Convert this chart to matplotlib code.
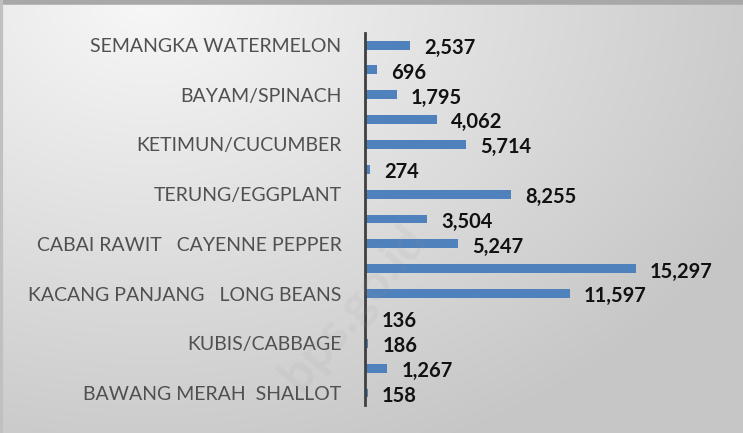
import numpy as np
import matplotlib
matplotlib.use("Agg")
import matplotlib.pyplot as plt

# categories, top to bottom (only every other row carries a name)
labels = ["SEMANGKA WATERMELON", "", "BAYAM/SPINACH", "", "KETIMUN/CUCUMBER", "",
          "TERUNG/EGGPLANT", "", "CABAI RAWIT   CAYENNE PEPPER", "",
          "KACANG PANJANG   LONG BEANS", "", "KUBIS/CABBAGE", "", "BAWANG MERAH  SHALLOT"]
values = [2537, 696, 1795, 4062, 5714, 274, 8255, 3504, 5247, 15297, 11597, 136, 186, 1267, 158]

plt.rcParams['font.family'] = ['Lato', 'DejaVu Sans']

fig = plt.figure(figsize=(7.43, 4.33), dpi=100)

# gradient background
bg = fig.add_axes([0, 0, 1, 1], zorder=-10)
yy, xx = np.mgrid[0:1:200j, 0:1:300j]
r = np.sqrt((xx - 0.2) ** 2 + (yy * 0.8) ** 2)
shade = 0.97 - 0.19 * np.clip(r / 0.9, 0, 1)
bg.imshow(np.dstack([shade] * 3), extent=[0, 1, 0, 1], origin='upper', aspect='auto')
bg.axhline(0.995, color='#a8a8a8', lw=4)
bg.axvline(0.002, color='#c0c0c0', lw=3)
bg.set_xlim(0, 1)
bg.set_ylim(0, 1)
bg.axis('off')

ax = fig.add_axes([0.4913, 0.0637, 0.4764, 0.861])
ax.patch.set_alpha(0)
y = np.arange(len(values))
ax.barh(y, values, height=0.36, color='#4f81bd')
ax.set_ylim(len(values) - 0.5, -0.5)
ax.set_xlim(0, 20000)

for yi, v in zip(y, values):
    ax.annotate(f"{v:,}", (v, yi), xytext=(10, -2), textcoords='offset points',
                ha='left', va='center', fontsize=14.5, fontweight='bold', color='#111111')

ax.set_yticks(y)
ax.set_yticklabels(labels, fontsize=14, color='#505050')
ax.tick_params(axis='y', length=0, pad=17)
ax.set_xticks([])
for s in ['top', 'right', 'bottom']:
    ax.spines[s].set_visible(False)
ax.spines['left'].set_color('#404040')
ax.spines['left'].set_linewidth(2)

# faint watermark
fig.text(0.475, 0.29, "bps.go.id", rotation=50, fontsize=36, fontweight='bold',
         color='#909090', alpha=0.09, ha='center', va='center')

fig.savefig("out.png", dpi=100)
